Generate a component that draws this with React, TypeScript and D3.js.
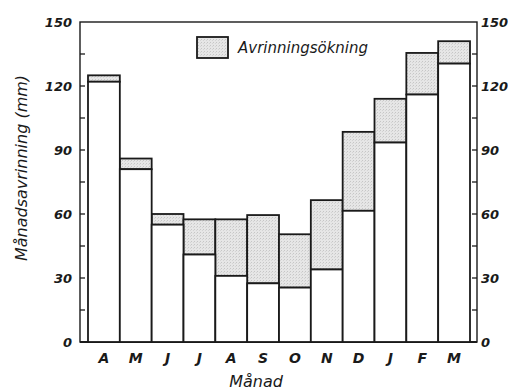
import React, { useEffect, useRef } from 'react';
import * as d3 from 'd3';

// månader (april - mars)
const months = ['A', 'M', 'J', 'J', 'A', 'S', 'O', 'N', 'D', 'J', 'F', 'M'];
// månadsavrinning före ökning (mm)
const baseRunoff = [122, 81, 55, 41, 31, 27.5, 25.5, 34, 61.5, 93.5, 116, 130.5];
// total avrinning efter ökning (mm)
const totalRunoff = [125, 86, 60, 57.5, 57.5, 59.5, 50.5, 66.5, 98.5, 114, 135.5, 141];
const yTickLabels = [0, 30, 60, 90, 120, 150];
const yMinorTicks = [15, 45, 75, 105, 135];

const App = () => {
  const ref = useRef<SVGSVGElement | null>(null);

  useEffect(() => {
    const svg = d3.select(ref.current);
    svg.selectAll('*').remove();

    const width = 508, height = 391;
    const margin = { top: 22, right: 31, bottom: 49, left: 80 };
    const innerW = width - margin.left - margin.right;
    const innerH = height - margin.top - margin.bottom;
    const font = "'DejaVu Sans', sans-serif";
    const ink = '#1a1a1a';

    const defs = svg.append('defs');
    const pat = defs.append('pattern')
      .attr('id', 'stipple')
      .attr('width', 3).attr('height', 3)
      .attr('patternUnits', 'userSpaceOnUse');
    pat.append('rect').attr('width', 3).attr('height', 3).attr('fill', '#e6e6e6');
    pat.append('rect').attr('x', 0).attr('y', 0).attr('width', 1).attr('height', 1).attr('fill', '#c6c6c6');
    pat.append('rect').attr('x', 2).attr('y', 1).attr('width', 1).attr('height', 1).attr('fill', '#d4d4d4');

    const g = svg.append('g').attr('transform', `translate(${margin.left},${margin.top})`);

    const x = d3.scaleBand<number>()
      .domain(d3.range(months.length))
      .range([8, innerW - 7])
      .paddingInner(0).paddingOuter(0);
    const y = d3.scaleLinear().domain([0, 150]).range([innerH, 0]);

    // frame
    g.append('rect')
      .attr('width', innerW).attr('height', innerH)
      .attr('fill', 'none').attr('stroke', ink).attr('stroke-width', 1.4);
    g.append('line').attr('x1', 0).attr('x2', innerW).attr('y1', innerH).attr('y2', innerH)
      .attr('stroke', ink).attr('stroke-width', 2);

    // increase (stippled)
    g.selectAll('rect.inc')
      .data(months)
      .enter().append('rect')
      .attr('class', 'inc')
      .attr('x', (_, i) => x(i)!)
      .attr('width', x.bandwidth())
      .attr('y', (_, i) => y(totalRunoff[i]))
      .attr('height', (_, i) => y(baseRunoff[i]) - y(totalRunoff[i]))
      .attr('fill', 'url(#stipple)')
      .attr('stroke', ink).attr('stroke-width', 1.8);

    // base (white)
    g.selectAll('rect.base')
      .data(months)
      .enter().append('rect')
      .attr('class', 'base')
      .attr('x', (_, i) => x(i)!)
      .attr('width', x.bandwidth())
      .attr('y', (_, i) => y(baseRunoff[i]))
      .attr('height', (_, i) => innerH - y(baseRunoff[i]))
      .attr('fill', '#fff')
      .attr('stroke', ink).attr('stroke-width', 1.8);

    // inward ticks, both sides
    const allTicks = [...yTickLabels, ...yMinorTicks].filter(t => t > 0 && t < 150);
    allTicks.forEach(t => {
      g.append('line').attr('x1', 0).attr('x2', 5).attr('y1', y(t)).attr('y2', y(t))
        .attr('stroke', ink).attr('stroke-width', 1.3);
      g.append('line').attr('x1', innerW).attr('x2', innerW - 5).attr('y1', y(t)).attr('y2', y(t))
        .attr('stroke', ink).attr('stroke-width', 1.3);
    });

    const tickStyle = (sel: any) => sel
      .style('font-family', font).style('font-style', 'italic').style('font-weight', 'bold')
      .style('font-size', '13px').attr('fill', ink);

    yTickLabels.forEach(t => {
      g.append('text').attr('x', -8).attr('y', y(t)).attr('dy', '0.35em')
        .attr('text-anchor', 'end').text(t).call(tickStyle);
      g.append('text').attr('x', innerW + 4).attr('y', y(t)).attr('dy', '0.35em')
        .attr('text-anchor', 'start').text(t).call(tickStyle);
    });

    months.forEach((m, i) => {
      g.append('text')
        .attr('x', x(i)! + x.bandwidth() / 2)
        .attr('y', innerH + 21)
        .attr('text-anchor', 'middle')
        .text(m).call(tickStyle).style('font-size', '14px');
    });

    // axis titles
    g.append('text')
      .attr('x', 176).attr('y', innerH + 45)
      .attr('text-anchor', 'middle')
      .style('font-family', font).style('font-style', 'italic').style('font-size', '16px')
      .attr('fill', ink).text('Månad');

    svg.append('text')
      .attr('transform', `translate(27,168) rotate(-90)`)
      .attr('text-anchor', 'middle')
      .style('font-family', font).style('font-style', 'italic').style('font-size', '16px')
      .attr('fill', ink).text('Månadsavrinning  (mm)');

    // legend
    svg.append('rect')
      .attr('x', 197).attr('y', 37).attr('width', 31).attr('height', 21)
      .attr('fill', 'url(#stipple)').attr('stroke', ink).attr('stroke-width', 1.8);
    svg.append('text')
      .attr('x', 238).attr('y', 53)
      .style('font-family', font).style('font-style', 'italic').style('font-size', '15px')
      .attr('fill', ink).text('Avrinningsökning');
  }, []);

  return (
    <svg ref={ref} width={508} height={391}
      style={{ position: 'absolute', left: 0, top: 0, background: '#fff' }} />
  );
};

export default App;
